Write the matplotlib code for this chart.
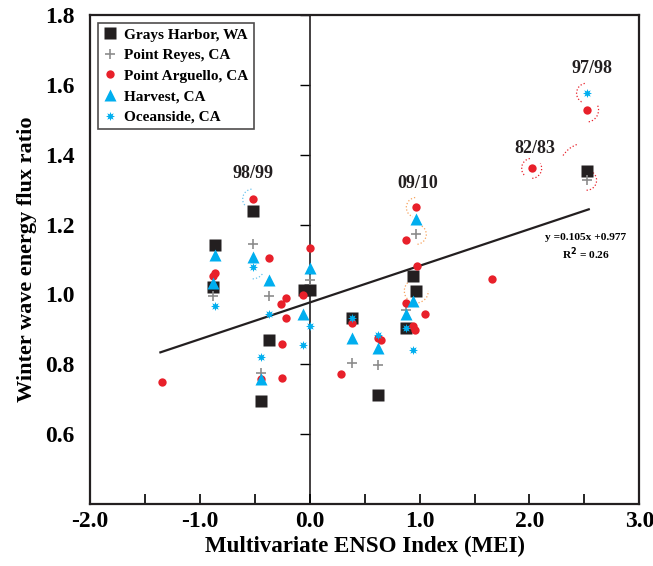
import numpy as np
import matplotlib
matplotlib.use("Agg")
import matplotlib.pyplot as plt
from matplotlib.patches import Arc

# === DATA ===
grays_x = [-0.86, -0.88, -0.52, -0.37, -0.44, -0.05, 0.0, 0.38, 0.62, 0.88, 0.94, 0.97, 2.52]
grays_y = [1.141, 1.022, 1.239, 0.869, 0.695, 1.012, 1.012, 0.933, 0.713, 0.904, 1.053, 1.010, 1.354]

reyes_x = [-0.88, -0.52, -0.37, -0.44, 0.0, 0.38, 0.62, 0.88, 0.97, 2.52]
reyes_y = [0.995, 1.143, 0.995, 0.776, 1.041, 0.804, 0.797, 0.955, 1.172, 1.327]

arguello_x = [-1.35, -0.88, -0.86, -0.52, -0.37, -0.44, -0.22, -0.26, -0.22, -0.25, -0.25,
              0.0, -0.06, 0.28, 0.38, 0.62, 0.65, 0.88, 0.97, 0.98, 0.88, 1.05, 0.94, 0.96,
              1.66, 2.02, 2.52]
arguello_y = [0.750, 1.052, 1.060, 1.273, 1.103, 0.757, 0.989, 0.973, 0.933, 0.857, 0.762,
              1.132, 0.998, 0.771, 0.918, 0.874, 0.869, 1.157, 1.249, 1.080, 0.976, 0.945, 0.909, 0.897,
              1.043, 1.361, 1.528]

harvest_x = [-0.86, -0.88, -0.52, -0.37, -0.44, 0.0, -0.06, 0.38, 0.62, 0.88, 0.94, 0.97]
harvest_y = [1.114, 1.033, 1.106, 1.041, 0.757, 1.077, 0.945, 0.874, 0.848, 0.943, 0.981, 1.215]

ocean_x = [-0.86, -0.52, -0.37, -0.44, 0.0, -0.06, 0.38, 0.62, 0.88, 0.94, 2.52]
ocean_y = [0.968, 1.079, 0.943, 0.821, 0.909, 0.854, 0.933, 0.885, 0.904, 0.842, 1.576]

# regression y = 0.105x + 0.977
fit_slope, fit_icept = 0.105, 0.977
fit_range = [-1.36, 2.54]

events = ["98/99", "09/10", "82/83", "97/98"]
event_x = [-0.52, 0.98, 2.05, 2.57]
event_y = [1.347, 1.319, 1.419, 1.648]

BLACK = "#231F20"
RED = "#E8202A"
CYAN = "#00AEEF"
GRAY = "#8C8C8C"
ORANGE = "#F7A35C"
LBLUE = "#6CC4EE"

plt.rcParams['font.family'] = ['Liberation Serif', 'DejaVu Serif']
plt.rcParams['font.weight'] = 'bold'

fig = plt.figure(figsize=(6.53, 5.66), dpi=100)
ax = fig.add_axes([0.138, 0.1095, 0.841, 0.864])

ax.plot(grays_x, grays_y, 's', color=BLACK, ms=8.3, mec='none', label='Grays Harbor, WA', zorder=3)
ax.plot(reyes_x, reyes_y, '+', color=GRAY, ms=7, mew=1.2, label='Point Reyes, CA', zorder=4)
ax.plot(arguello_x, arguello_y, 'o', color=RED, ms=6, mec='none', label='Point Arguello, CA', zorder=4)
ax.plot(harvest_x, harvest_y, '^', color=CYAN, ms=8, mec='none', label='Harvest, CA', zorder=4)
ax.plot(ocean_x, ocean_y, marker=(8, 1, 0), ls='none', color=CYAN, ms=6.5, mec='none',
        label='Oceanside, CA', zorder=5)

fx = np.array(fit_range)
ax.plot(fx, fit_slope * fx + fit_icept, color=BLACK, lw=1.6, zorder=2)

for lab, ex, ey in zip(events, event_x, event_y):
    ax.text(ex, ey, lab, ha='center', va='center', fontsize=13, fontweight='bold', color=BLACK)

ax.text(2.51, 1.164, "y =0.105x +0.977", ha='center', va='center', fontsize=8.2, fontweight='bold')
ax.text(2.51, 1.118, "R$^2$ = 0.26", ha='center', va='center', fontsize=8.2, fontweight='bold')

# dotted highlight arcs (radius in px converted to data units)
px_x, px_y = 109.8, 349.0
arcs = [
    (-0.52, 1.273, 10, 110, 200, LBLUE),
    (-0.52, 1.079, 12, -90, -10, LBLUE),
    (0.97, 1.249, 10, 110, 220, ORANGE),
    (0.97, 1.172, 10, -70, 40, ORANGE),
    (0.97, 1.010, 12, 130, 200, ORANGE),
    (0.97, 1.010, 12, -60, 0, ORANGE),
    (2.02, 1.361, 10, 120, 200, RED),
    (2.02, 1.361, 10, -80, 10, RED),
    (2.52, 1.576, 10, 120, 220, RED),
    (2.52, 1.528, 12, -60, 10, RED),
    (2.52, 1.354, 28, 140, 170, RED),
    (2.52, 1.327, 10, -90, 20, RED),
]
for cx, cy, r, t1, t2, col in arcs:
    ax.add_patch(Arc((cx, cy), 2 * r / px_x, 2 * r / px_y, theta1=t1, theta2=t2,
                     color=col, lw=0.9, ls=':', zorder=2))

ax.set_xlim(-2.0, 3.0)
ax.set_ylim(0.4, 1.8)
ax.set_xticks(np.arange(-2.0, 3.01, 1.0))
ax.set_xticks(np.arange(-1.5, 3.0, 1.0), minor=True)
ax.set_xticklabels([f"{v:.1f}" for v in np.arange(-2.0, 3.01, 1.0)])
ax.set_yticks(np.arange(0.6, 1.81, 0.2))
ax.set_yticklabels([f"{v:.1f}" for v in np.arange(0.6, 1.81, 0.2)])
ax.tick_params(axis='x', which='both', direction='in', length=7, width=1.2, labelsize=17, pad=5)
ax.tick_params(axis='y', length=0, labelsize=17, pad=11)
for lab in ax.get_xticklabels() + ax.get_yticklabels():
    lab.set_fontweight('bold')
for sp in ax.spines.values():
    sp.set_linewidth(1.6)
    sp.set_color(BLACK)

# y axis crossing at x = 0 with its own tick marks
sec = ax.secondary_yaxis(0.4)
sec.set_yticks(np.arange(0.6, 1.81, 0.2))
sec.tick_params(direction='out', length=7, width=1.0, labelleft=False)
sec.spines['left'].set_linewidth(1.2)
sec.spines['left'].set_color(BLACK)

ax.set_xlabel("Multivariate ENSO Index (MEI)", fontsize=16.5, fontweight='bold', labelpad=3)
ax.set_ylabel("Winter wave energy flux ratio", fontsize=16, fontweight='bold', labelpad=6)

leg = ax.legend(loc='upper left', fontsize=11, frameon=True, fancybox=False, borderpad=0.35,
                handletextpad=0.5, handlelength=0.9, labelspacing=0.45, borderaxespad=0.5)
leg.get_frame().set_edgecolor(BLACK)
leg.get_frame().set_linewidth(1.2)
for t in leg.get_texts():
    t.set_fontweight('bold')

fig.savefig("out.png", dpi=100)
